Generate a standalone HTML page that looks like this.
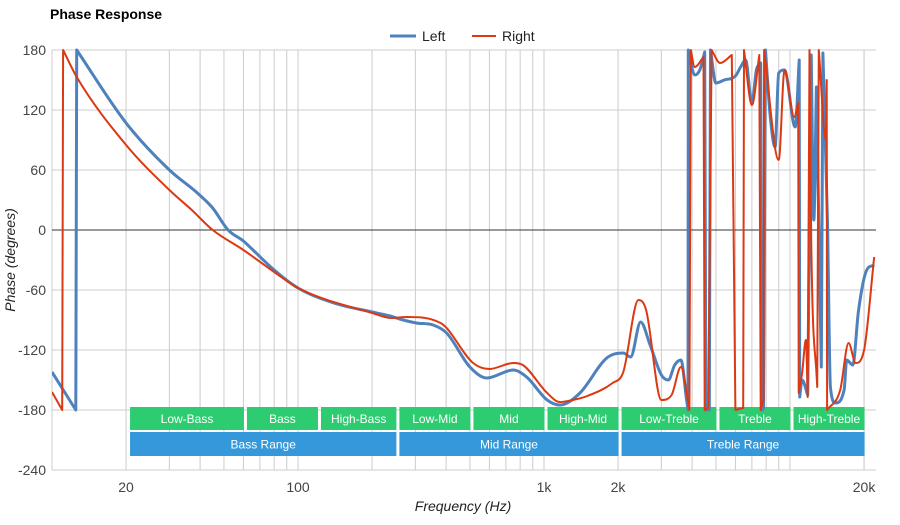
<!DOCTYPE html>
<html><head><meta charset="utf-8"><style>
body{margin:0;background:#fff;font-family:"Liberation Sans",Arial,sans-serif}
svg text{font-family:"Liberation Sans",Arial,sans-serif}
</style></head><body>
<svg id="c" width="900" height="520" viewBox="0 0 900 520">
<text x="50" y="19" font-size="14" font-weight="bold" fill="#000">Phase Response</text>
<g>
<g><line x1="390" y1="36" x2="416" y2="36" stroke="#4f81bd" stroke-width="3"/><text x="422" y="41" font-size="14" fill="#222">Left</text></g>
<g><line x1="472" y1="36" x2="496" y2="36" stroke="#dc3912" stroke-width="2"/><text x="502" y="41" font-size="14" fill="#222">Right</text></g>
</g>
<g id="grid"></g><g id="bands"></g>
<defs><clipPath id="clip"><rect x="52" y="48" width="824" height="424"/></clipPath></defs>
<g id="series" clip-path="url(#clip)"></g>
<g id="labels"></g>
<text x="463" y="511" font-size="14" font-style="italic" text-anchor="middle" fill="#222">Frequency (Hz)</text>
<text transform="translate(15,260) rotate(-90)" font-size="14" font-style="italic" text-anchor="middle" fill="#222">Phase (degrees)</text>
</svg>
<script>
const yTicks=[180,120,60,0,-60,-120,-180,-240];
const xTickLabels=[[20,"20"],[100,"100"],[1000,"1k"],[2000,"2k"],[20000,"20k"]];
const leftFreq=[10,12.5,12.6,20,30,39,45,52,60,65,80,100,140,200,237,259,303,354,402,500,585,750,850,1030,1160,1400,1800,2100,2250,2470,2700,3000,3200,3400,3600,3800,3850,3860,4100,4300,4500,4550,4700,4750,5000,5400,6000,6300,6600,7000,7300,7600,7700,7800,7950,8300,8700,9000,9500,10500,10900,10950,11200,11800,12200,12500,12800,13400,13600,14200,14600,15300,16600,17000,18000,19000,20500,22000];
const leftPhase=[-142,-180,180,107,60,37,22,0,-11,-19,-40,-58,-73,-82,-86,-89,-93,-95,-103,-137,-148,-140,-147,-170,-175,-163,-128,-123,-127,-92,-115,-145,-150,-135,-130,-170,-180,180,155,160,178,-180,-180,180,147,150,154,163,170,127,160,167,-180,-178,180,115,83,157,160,103,170,-167,-150,-165,175,10,143,-137,177,7,-157,-173,-160,-130,-135,-80,-40,-35];
const rightFreq=[10,11,11.1,12.6,20,30,37,45,60,80,100,200,240,277,380,515,600,750,820,1030,1160,1310,1500,1900,2100,2420,2600,3000,3300,3600,3900,3950,4100,4450,4500,4650,4800,5200,5800,6000,6450,6500,7000,7500,7600,7800,7850,9000,9500,10400,10800,10850,11200,11600,11800,12000,12200,12900,13100,14000,14100,14150,16000,17300,18500,20000,22000];
const rightPhase=[-162,-180,180,153,85,40,20,0,-20,-42,-58,-83,-88,-87,-93,-133,-139,-133,-135,-163,-172,-170,-166,-153,-142,-70,-80,-170,-165,-137,-180,180,163,173,-180,-178,180,167,175,-180,-178,180,125,175,-180,-170,180,70,160,113,127,-163,-143,-110,-167,180,-10,-157,180,90,150,-180,-160,-113,-133,-120,-27];
const bandsTop=[["Low-Bass",20,60],["Bass",60,120],["High-Bass",120,250],["Low-Mid",250,500],["Mid",500,1000],["High-Mid",1000,2000],["Low-Treble",2000,5000],["Treble",5000,10000],["High-Treble",10000,20000]];
const bandsBottom=[["Bass Range",20,250],["Mid Range",250,2000],["Treble Range",2000,20000]];
const NS="http://www.w3.org/2000/svg";
const X=f=>52+246*Math.log10(f/10);
const Y=v=>50+(180-v);
function mk(tag,attrs,parent){const e=document.createElementNS(NS,tag);for(const k in attrs)e.setAttribute(k,attrs[k]);parent.appendChild(e);return e;}
const grid=document.getElementById('grid'),labels=document.getElementById('labels'),bands=document.getElementById('bands'),series=document.getElementById('series');
for(let d=10;d<=10000;d*=10){for(let m=1;m<=9;m++){const f=d*m;if(f>22000)break;const l=mk('line',{x1:X(f),x2:X(f),y1:50,y2:470,stroke:'#ccc','stroke-width':1},grid);

}}
const l2=mk('line',{x1:X(20000),x2:X(20000),y1:50,y2:470,stroke:'#ccc'},grid);


yTicks.forEach(v=>{const l=mk('line',{x1:52,x2:876,y1:Y(v),y2:Y(v),stroke:v===0?'#333':'#ccc','stroke-width':1},grid);


const t=mk('text',{x:46,y:Y(v)+5,'text-anchor':'end','font-size':14,fill:'#444'},labels);t.textContent=v;

});
xTickLabels.forEach(([f,s])=>{const t=mk('text',{x:X(f),y:492,'text-anchor':'middle','font-size':14,fill:'#444'},labels);t.textContent=s;

});
function band(list,y,h,color){list.forEach(([n,a,b])=>{const g=mk('g',{},bands);


const x1=X(a)+(a===20?4:3.5),x2=X(b)+0.5;mk('rect',{x:x1,y:y,width:x2-x1,height:h,fill:color},g);
const t=mk('text',{x:(x1+x2)/2,y:y+h/2+4.5,'text-anchor':'middle','font-size':12,fill:'#fff'},g);t.textContent=n;});}
band(bandsTop,407,23,'#2ecc71');band(bandsBottom,432,24,'#3498db');
function smoothPath(xs,ys){const n=xs.length;const d=[],m=new Array(n).fill(0);
for(let i=0;i<n-1;i++){const dx=xs[i+1]-xs[i];d.push(dx>0.01?(ys[i+1]-ys[i])/dx:0);}
for(let i=1;i<n-1;i++){if(d[i-1]*d[i]<=0)m[i]=0;else m[i]=(d[i-1]+d[i])/2;
const lim=3*Math.min(Math.abs(d[i-1]),Math.abs(d[i]));if(Math.abs(m[i])>lim)m[i]=Math.sign(m[i])*lim;}
m[0]=d[0];m[n-1]=d[n-2];
let p='M'+xs[0].toFixed(1)+','+ys[0].toFixed(1);
for(let i=0;i<n-1;i++){const dx=xs[i+1]-xs[i];
if(Math.abs(ys[i+1]-ys[i])>250||dx<0.5){p+=' L'+xs[i+1].toFixed(1)+','+ys[i+1].toFixed(1);continue;}
const a=m[i],b=m[i+1];
const mi=(i>0&&Math.abs(ys[i]-ys[i-1])>250)?d[i]:a, mj=(i+2<n&&Math.abs(ys[i+2]-ys[i+1])>250)?d[i]:b;
p+=' C'+(xs[i]+dx/3).toFixed(1)+','+(ys[i]+mi*dx/3).toFixed(1)+' '+(xs[i+1]-dx/3).toFixed(1)+','+(ys[i+1]-mj*dx/3).toFixed(1)+' '+xs[i+1].toFixed(1)+','+ys[i+1].toFixed(1);}
return p;}
function line(fs,vs,color,w,name){const xs=fs.map(X),ys=vs.map(Y);
const p=mk('path',{d:smoothPath(xs,ys),fill:'none',stroke:color,'stroke-width':w,'stroke-linejoin':'round'},series);

}
line(leftFreq,leftPhase,'#4f81bd',3,'left-series-line');
line(rightFreq,rightPhase,'#dc3912',2,'right-series-line');
</script>
</body></html>
